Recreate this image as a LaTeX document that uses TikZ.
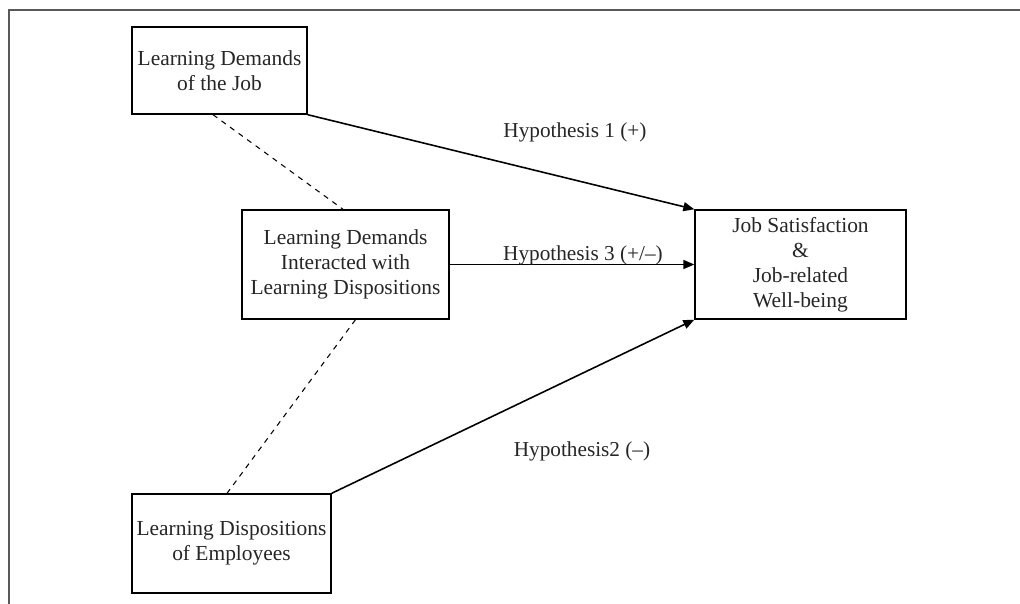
\documentclass[tikz,border=0pt]{standalone}
\usepackage{fontspec}
\setmainfont{Liberation Serif}
\usetikzlibrary{arrows.meta}

\tikzset{
  modelbox/.style={draw, line width=0.8pt, align=center, inner sep=0pt, text=black!85, font=\fontsize{12.2}{14.2}\selectfont},
  hyparrow/.style={line width=0.9pt, -{Triangle[length=2.2mm,width=1.8mm]}},
  hyplabel/.style={font=\fontsize{12.1}{14.2}\selectfont, text=black!85, inner sep=0pt}
}

\begin{document}
\begin{tikzpicture}[x=0.02cm,y=-0.02cm]
\useasboundingbox (0,0) rectangle (1020,604);
\draw[gray!70!black, line width=1pt] (1020,10)--(9,10)--(9,604);
% boxes
\node[modelbox, minimum width=3.5cm, minimum height=1.74cm] (demands) at (219.5,70.5) {Learning Demands\\of the Job};
\node[modelbox, minimum width=4.14cm, minimum height=2.18cm] (interact) at (345.5,264.5) {Learning Demands\\Interacted with\\Learning Dispositions};
\node[modelbox, minimum width=3.98cm, minimum height=1.98cm] (disp) at (231.5,543.5) {Learning Dispositions\\of Employees};
\node[modelbox, minimum width=4.22cm, minimum height=2.18cm] (outcome) at (800.5,264.5) {Job Satisfaction\\\&\\Job-related\\Well-being};
% hypotheses
\draw[hyparrow] (demands.south east) -- (outcome.north west);
\draw[hyparrow] (interact.east) -- (outcome.west);
\draw[hyparrow] (disp.north east) -- (outcome.south west);
\node[hyplabel] (h1) at (575,132) {Hypothesis 1 (+)};
\node[hyplabel] (h3) at (583,255) {Hypothesis 3 (+/--)};
\node[hyplabel] (h2) at (582,451) {Hypothesis2 (--)};
% interaction
\draw[dashed, line width=0.6pt] ([xshift=-0.13cm]demands.south) -- ([xshift=-0.05cm]interact.north);
\draw[dashed, line width=0.6pt] ([xshift=0.2cm]interact.south) -- ([xshift=-0.09cm]disp.north);
\end{tikzpicture}
\end{document}
